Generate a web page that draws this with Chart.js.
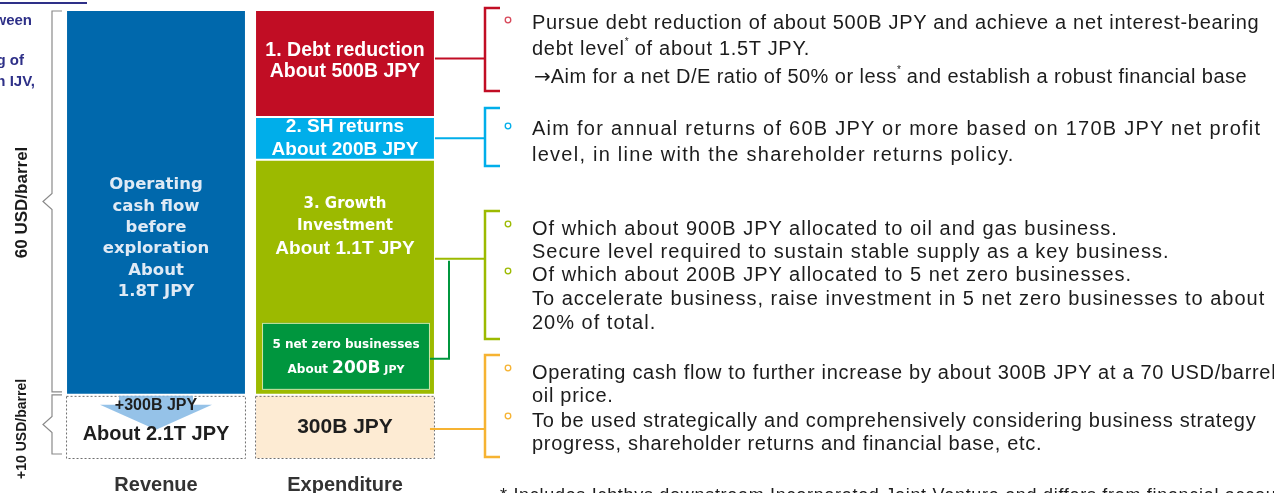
<!DOCTYPE html>
<html>
<head>
<meta charset="utf-8">
<script src="https://cdn.jsdelivr.net/npm/chart.js@4.4.0/dist/chart.umd.min.js"></script>
<style>
  html, body { margin: 0; padding: 0; background: #fff; overflow: hidden; }
  #wrap { position: relative; width: 1274px; height: 493px; overflow: hidden; }
  #chart { position: absolute; left: 0; top: 0; }
  .note { position: absolute; white-space: nowrap; font-family: "Liberation Sans", Arial, sans-serif;
          font-size: 20px; line-height: 24px; color: #1c1c1c; letter-spacing: 0.7px; }
  .note sup { font-size: 10px; line-height: 0; position: relative; top: -2px; letter-spacing: 0; }
  .note .arr { font-family: "DejaVu Sans", sans-serif; letter-spacing: 0; }
  .side { position: absolute; white-space: nowrap; font-family: "Liberation Sans", Arial, sans-serif;
          font-weight: bold; font-size: 15px; color: #2e3088; text-align: right; }
</style>
</head>
<body>
<div id="wrap">
  <canvas id="chart" width="1274" height="493"></canvas>
  <div style="position:absolute;left:0;top:2px;width:87px;height:2px;background:#2e3088"></div>
  <div class="side" style="right:1242px;top:11px">ween</div>
  <div class="side" style="right:1250px;top:51px">g of</div>
  <div class="side" style="right:1239px;top:72px">n IJV,</div>
</div>
<script>
// Cash allocation plan, billions of JPY
const categories = ['Revenue', 'Expenditure'];
const upliftAt70 = [300, null];
const operatingCashFlow = [1800, null];
const flexibleSpend = [null, 300];
const growthInvestment = [null, 1100];
const shareholderReturns = [null, 200];
const debtReduction = [null, 500];
const netZeroShare = 200;

const colors = {
  blue: '#0068ac', red: '#c10d24', cyan: '#00aeea', olive: '#9cba00',
  green: '#00963e', peach: '#fdebd3', orange: '#f6b332'
};

// right-hand commentary, one entry per drawn line
const notes = [
  { y: 22, x: 532, html: 'Pursue debt reduction of about 500B JPY and achieve a net interest-bearing' },
  { y: 48, x: 532, html: 'debt level<sup>*</sup> of about 1.5T JPY.' },
  { y: 76, x: 534, html: '<span class="arr">→</span>Aim for a net D/E ratio of 50% or less<sup>*</sup> and establish a robust financial base', ls: 0.45 },
  { y: 128, x: 532, html: 'Aim for annual returns of 60B JPY or more based on 170B JPY net profit', ls: 1.25 },
  { y: 154, x: 532, html: 'level, in line with the shareholder returns policy.', ls: 1.25 },
  { y: 228, x: 532, html: 'Of which about 900B JPY allocated to oil and gas business.', ls: 1.0 },
  { y: 251, x: 532, html: 'Secure level required to sustain stable supply as a key business.', ls: 1.0 },
  { y: 274, x: 532, html: 'Of which about 200B JPY allocated to 5 net zero businesses.', ls: 1.0 },
  { y: 298, x: 532, html: 'To accelerate business, raise investment in 5 net zero businesses to about', ls: 1.0 },
  { y: 322, x: 532, html: '20% of total.', ls: 1.0 },
  { y: 372, x: 532, html: 'Operating cash flow to further increase by about 300B JPY at a 70 USD/barrel' },
  { y: 395, x: 532, html: 'oil price.' },
  { y: 420, x: 532, html: 'To be used strategically and comprehensively considering business strategy' },
  { y: 443, x: 532, html: 'progress, shareholder returns and financial base, etc.' },
  { y: 495, x: 500, html: '* Includes Ichthys downstream Incorporated Joint Venture and differs from financial accounting ba', fs: 18 }
];
const wrap = document.getElementById('wrap');
notes.forEach(n => {
  const d = document.createElement('div');
  d.className = 'note';
  d.style.left = n.x + 'px';
  d.style.top = (n.y - 12) + 'px';
  if (n.ls !== undefined) d.style.letterSpacing = n.ls + 'px';
  if (n.fs) d.style.fontSize = n.fs + 'px';
  d.innerHTML = n.html;
  wrap.appendChild(d);
});

function textLines(ctx, lines, x, yMid, font, lineH, color) {
  ctx.font = font;
  ctx.fillStyle = color;
  ctx.textAlign = 'center';
  ctx.textBaseline = 'middle';
  const y0 = yMid - (lines.length - 1) * lineH / 2;
  lines.forEach((t, i) => ctx.fillText(t, x, y0 + i * lineH));
}

function brace(ctx, top, bottom) {
  const mid = (top + bottom) / 2;
  ctx.beginPath();
  ctx.moveTo(62, top); ctx.lineTo(52, top);
  ctx.lineTo(52, mid - 8); ctx.lineTo(43, mid); ctx.lineTo(52, mid + 8);
  ctx.lineTo(52, bottom); ctx.lineTo(62, bottom);
  ctx.stroke();
}

function bracket(ctx, color, top, bottom, fromX, atY) {
  ctx.strokeStyle = color;
  ctx.lineWidth = 2.5;
  ctx.beginPath();
  ctx.moveTo(500, top); ctx.lineTo(485, top); ctx.lineTo(485, bottom); ctx.lineTo(500, bottom);
  ctx.stroke();
  ctx.lineWidth = 2;
  ctx.beginPath();
  ctx.moveTo(fromX, atY); ctx.lineTo(485, atY);
  ctx.stroke();
}

function bullet(ctx, color, y) {
  ctx.strokeStyle = color;
  ctx.lineWidth = 1.3;
  ctx.beginPath();
  ctx.arc(508, y, 2.8, 0, Math.PI * 2);
  ctx.stroke();
}

const decor = {
  id: 'decor',
  afterDatasetsDraw(chart) {
    const ctx = chart.ctx;
    const el = (d, i) => chart.getDatasetMeta(d).data[i].getProps(['x', 'y', 'base', 'width'], true);
    const up = el(0, 0), ocf = el(1, 0), flex = el(2, 1), grow = el(3, 1), shr = el(4, 1), debt = el(5, 1);
    ctx.save();

    // dashed outlines of the 70 USD/barrel boxes
    ctx.setLineDash([2, 2]);
    ctx.strokeStyle = '#6f6f6f';
    ctx.lineWidth = 1;
    ctx.strokeRect(up.x - up.width / 2 + 0.5, up.y + 1.5, up.width - 1, up.base - up.y - 2);
    ctx.strokeRect(flex.x - flex.width / 2 + 0.5, flex.y + 1.5, flex.width - 1, flex.base - flex.y - 2);
    ctx.setLineDash([]);

    // braces and price labels on the left
    ctx.strokeStyle = '#8a8a8a';
    ctx.lineWidth = 1.2;
    brace(ctx, ocf.y + 1, ocf.base - 3);
    brace(ctx, up.y, up.base - 5);
    ctx.fillStyle = '#1a1a1a';
    ctx.font = 'bold 17px "Liberation Sans", Arial, sans-serif';
    ctx.textAlign = 'center';
    ctx.textBaseline = 'middle';
    ctx.save(); ctx.translate(22, (ocf.y + ocf.base) / 2); ctx.rotate(-Math.PI / 2);
    ctx.fillText('60 USD/barrel', 0, 0); ctx.restore();
    ctx.font = 'bold 14px "Liberation Sans", Arial, sans-serif';
    ctx.save(); ctx.translate(22, (up.y + up.base) / 2 + 2); ctx.rotate(-Math.PI / 2);
    ctx.fillText('+10 USD/barrel', 0, 0); ctx.restore();

    // downward arrow for the +300B uplift
    const ax = up.x, at = up.y + 1;
    ctx.fillStyle = 'rgba(130,183,228,0.85)';
    ctx.beginPath();
    ctx.moveTo(ax - 37, at); ctx.lineTo(ax + 37, at); ctx.lineTo(ax + 37, at + 9);
    ctx.lineTo(ax + 56, at + 9); ctx.lineTo(ax, at + 34); ctx.lineTo(ax - 56, at + 9);
    ctx.lineTo(ax - 37, at + 9); ctx.closePath();
    ctx.fill();

    // segment labels
    const arial = '"Liberation Sans", Arial, sans-serif';
    const verd = '"DejaVu Sans", Verdana, sans-serif';
    textLines(ctx, ['Operating', 'cash flow', 'before', 'exploration', 'About', '1.8T JPY'],
      ocf.x, (ocf.y + ocf.base) / 2 + 36, 'bold 16.5px ' + verd, 21.4, '#dfeaf5');
    textLines(ctx, ['+300B JPY'], up.x, up.y + 11, 'bold 16px ' + arial, 20, '#1e1e1e');
    textLines(ctx, ['About 2.1T JPY'], up.x, up.y + 40, 'bold 20px ' + arial, 20, '#1e1e1e');
    textLines(ctx, ['1. Debt reduction', 'About 500B JPY'], debt.x, (debt.y + debt.base) / 2 - 2, 'bold 19.5px ' + arial, 21, '#ffffff');
    textLines(ctx, ['2. SH returns', 'About 200B JPY'], shr.x, (shr.y + shr.base) / 2, 'bold 19px ' + arial, 23, '#ffffff');
    textLines(ctx, ['3. Growth', 'Investment'], grow.x, grow.y + 55, 'bold 15px ' + verd, 22, '#ffffff');
    textLines(ctx, ['About 1.1T JPY'], grow.x, grow.y + 89, 'bold 19px ' + arial, 22, '#ffffff');
    textLines(ctx, ['300B JPY'], flex.x, (flex.y + flex.base) / 2, 'bold 21px ' + arial, 22, '#1e1e1e');

    // net zero sub-box inside growth investment
    const bx = grow.x - grow.width / 2 + 7, bw = grow.width - 12, bb = grow.base - 5, bt = bb - 67;
    ctx.fillStyle = colors.green;
    ctx.fillRect(bx, bt, bw, bb - bt);
    ctx.strokeStyle = '#d6e8a8';
    ctx.lineWidth = 1;
    ctx.strokeRect(bx + 0.5, bt + 0.5, bw - 1, bb - bt - 1);
    textLines(ctx, ['5 net zero businesses'], bx + bw / 2, bt + 22, 'bold 12px ' + verd, 14, '#ffffff');
    const parts = [['About ', 'bold 12px ' + verd], [netZeroShare + 'B', 'bold 17px ' + verd], [' JPY', 'bold 11px ' + verd]];
    let total = 0;
    parts.forEach(p => { ctx.font = p[1]; total += ctx.measureText(p[0]).width; });
    let px = bx + bw / 2 - total / 2;
    ctx.textAlign = 'left';
    ctx.textBaseline = 'alphabetic';
    parts.forEach(p => { ctx.font = p[1]; ctx.fillText(p[0], px, bt + 50); px += ctx.measureText(p[0]).width; });

    // category names under the bars
    const xs = chart.scales.x;
    categories.forEach((c, i) => {
      textLines(ctx, [c], xs.getPixelForValue(i), chart.chartArea.bottom + 26, 'bold 20px ' + arial, 20, '#333333');
    });

    // connectors and brackets to the commentary
    const right = debt.x + debt.width / 2;
    bracket(ctx, colors.red, 8, 91, right, (debt.y + debt.base) / 2 - 5);
    bracket(ctx, colors.cyan, 108, 166, right, (shr.y + shr.base) / 2);
    bracket(ctx, colors.olive, 211, 339, right, grow.y + 99);
    bracket(ctx, colors.orange, 355, 457, bx + bw, (flex.y + flex.base) / 2 + 2);
    ctx.strokeStyle = colors.green;
    ctx.lineWidth = 2;
    ctx.beginPath();
    ctx.moveTo(bx + bw, bb - 31); ctx.lineTo(449, bb - 31); ctx.lineTo(449, grow.y + 101);
    ctx.stroke();

    bullet(ctx, '#d8485a', 20);
    bullet(ctx, colors.cyan, 126);
    bullet(ctx, colors.olive, 224);
    bullet(ctx, colors.olive, 271);
    bullet(ctx, colors.orange, 368);
    bullet(ctx, colors.orange, 416);
    ctx.restore();
  }
};

const seg = (label, data, color) => ({
  label, data, backgroundColor: color, borderColor: '#ffffff', borderWidth: 1, borderSkipped: false
});

new Chart(document.getElementById('chart'), {
  type: 'bar',
  data: {
    labels: categories,
    datasets: [
      seg('+10 USD/barrel', upliftAt70, '#ffffff'),
      seg('Operating cash flow', operatingCashFlow, colors.blue),
      seg('Additional 300B JPY', flexibleSpend, colors.peach),
      seg('Growth investment', growthInvestment, colors.olive),
      seg('SH returns', shareholderReturns, colors.cyan),
      seg('Debt reduction', debtReduction, colors.red)
    ]
  },
  options: {
    responsive: false,
    animation: false,
    layout: { padding: { left: 61.5, right: 834.5, top: 10, bottom: 34 } },
    datasets: { bar: { barPercentage: 1, categoryPercentage: 0.952 } },
    plugins: { legend: { display: false }, tooltip: { enabled: false } },
    scales: {
      x: { stacked: true, display: false },
      y: { stacked: true, min: 0, max: 2100, display: false }
    }
  },
  plugins: [decor]
});
</script>
</body>
</html>
